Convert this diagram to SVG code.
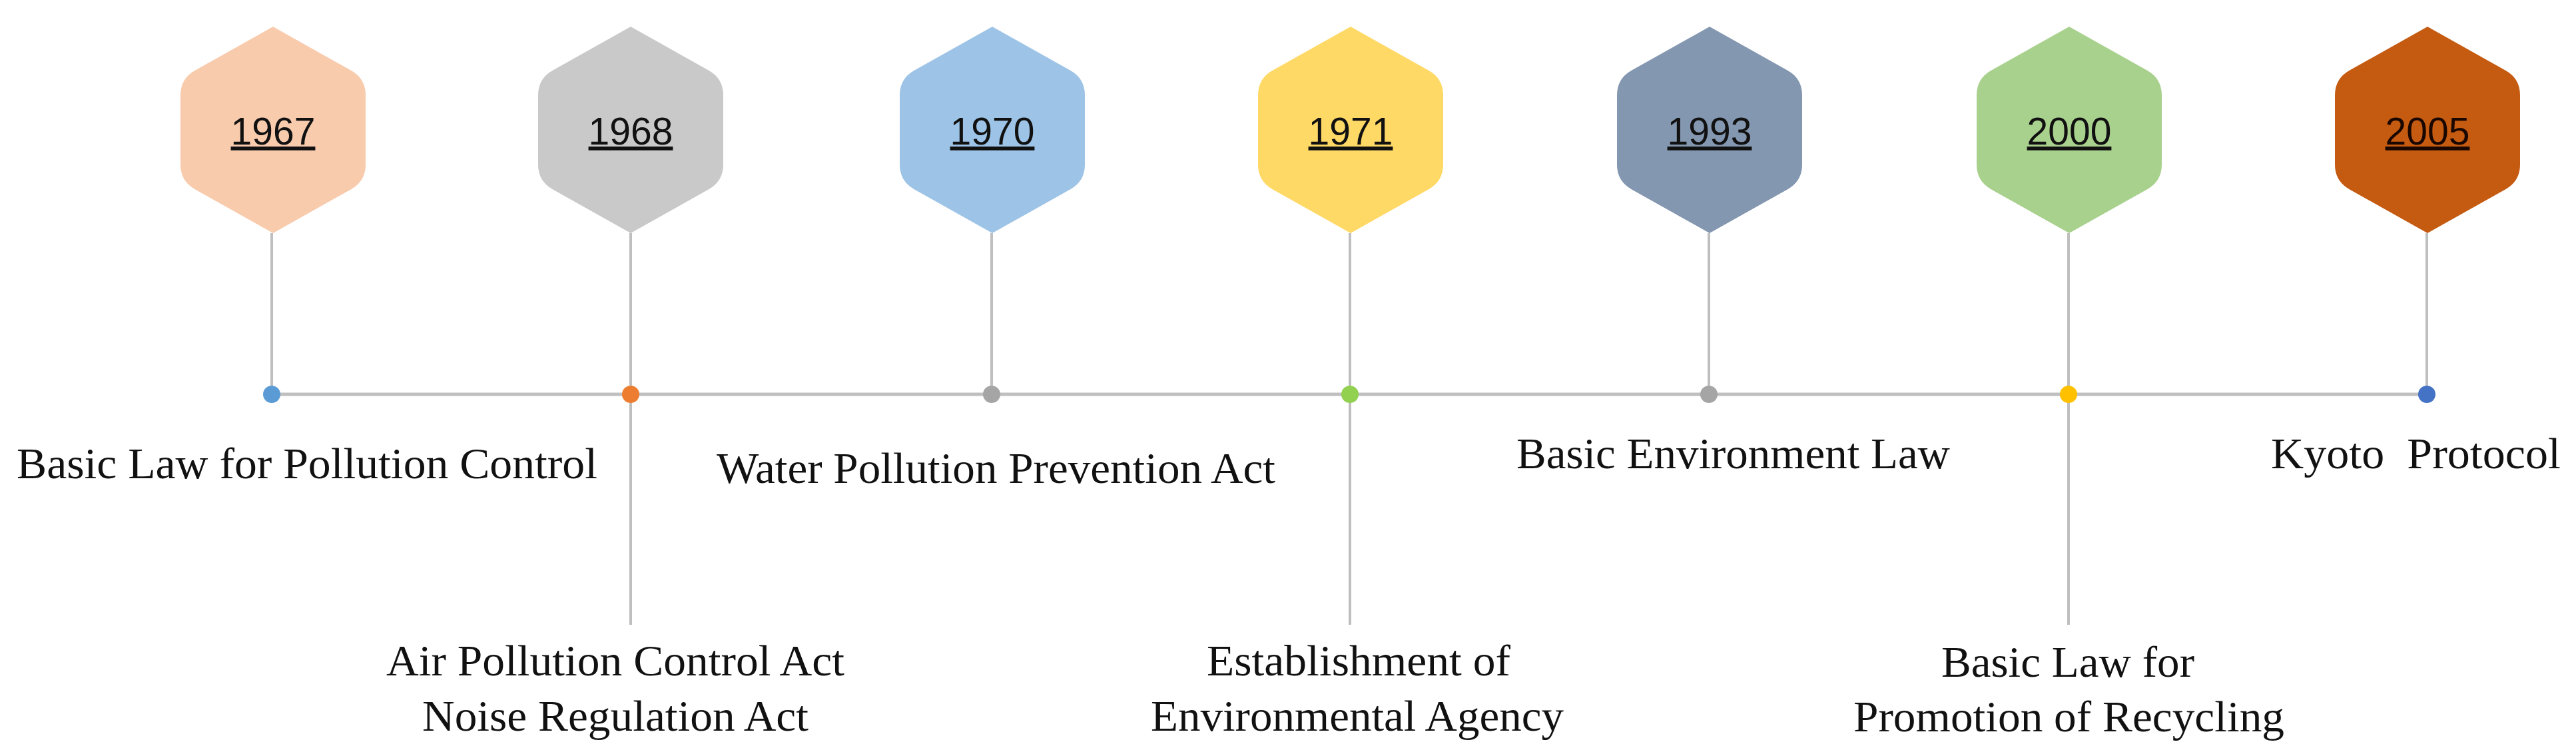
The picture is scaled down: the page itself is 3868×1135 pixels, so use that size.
<svg xmlns="http://www.w3.org/2000/svg" xmlns:xlink="http://www.w3.org/1999/xlink" width="3868" height="1135" viewBox="0 0 3868 1135">
<style>
.year{font-family:"Liberation Sans",Arial,sans-serif;font-size:57px;fill:#111;text-anchor:middle;text-decoration:underline;}
.desc{font-family:"Liberation Serif","Times New Roman",serif;font-size:66px;fill:#111;}
.conn{stroke:#BFBFBF;fill:none;}
</style>
<defs>
<path id="hex" d="M0,40 L117.2,105.8 Q139,118 139,143 L139,247 Q139,272 117.2,284.2 L0,350 L-117.2,284.2 Q-139,272 -139,247 L-139,143 Q-139,118 -117.2,105.8 Z"/>
</defs>
<rect width="3868" height="1135" fill="#FFFFFF"/>
<g id="connectors">
<line class="conn" x1="408" y1="592" x2="3644" y2="592" stroke-width="5"/>
<line class="conn" x1="408" y1="350" x2="408" y2="592" stroke-width="4"/>
<line class="conn" x1="947" y1="350" x2="947" y2="938" stroke-width="4"/>
<line class="conn" x1="1489" y1="350" x2="1489" y2="592" stroke-width="4"/>
<line class="conn" x1="2027" y1="350" x2="2027" y2="938" stroke-width="4"/>
<line class="conn" x1="2566" y1="350" x2="2566" y2="592" stroke-width="4"/>
<line class="conn" x1="3106" y1="350" x2="3106" y2="938" stroke-width="4"/>
<line class="conn" x1="3644" y1="350" x2="3644" y2="592" stroke-width="4"/>
<circle cx="408" cy="592" r="13" fill="#5B9BD5"/>
<circle cx="947" cy="592" r="13" fill="#ED7D31"/>
<circle cx="1489" cy="592" r="13" fill="#A5A5A5"/>
<circle cx="2027" cy="592" r="13" fill="#92D050"/>
<circle cx="2566" cy="592" r="13" fill="#A5A5A5"/>
<circle cx="3106" cy="592" r="13" fill="#FFC000"/>
<circle cx="3644" cy="592" r="13" fill="#4472C4"/>
</g>
<g id="node-1967">
<use xlink:href="#hex" transform="translate(410,0)" fill="#F8CBAD"/>
<text class="year" x="410" y="217">1967</text>
<text class="desc" x="25" y="718" textLength="872" lengthAdjust="spacingAndGlyphs">Basic Law for Pollution Control</text>
</g>
<g id="node-1968">
<use xlink:href="#hex" transform="translate(947,0)" fill="#C9C9C9"/>
<text class="year" x="947" y="217">1968</text>
<text class="desc" x="580" y="1014" textLength="688" lengthAdjust="spacingAndGlyphs">Air Pollution Control Act</text>
<text class="desc" x="634" y="1097" textLength="580" lengthAdjust="spacingAndGlyphs">Noise Regulation Act</text>
</g>
<g id="node-1970">
<use xlink:href="#hex" transform="translate(1490,0)" fill="#9DC3E6"/>
<text class="year" x="1490" y="217">1970</text>
<text class="desc" x="1076" y="725" textLength="839" lengthAdjust="spacingAndGlyphs">Water Pollution Prevention Act</text>
</g>
<g id="node-1971">
<use xlink:href="#hex" transform="translate(2028,0)" fill="#FFD966"/>
<text class="year" x="2028" y="217">1971</text>
<text class="desc" x="1812" y="1014" textLength="456" lengthAdjust="spacingAndGlyphs">Establishment of</text>
<text class="desc" x="1728" y="1097" textLength="620" lengthAdjust="spacingAndGlyphs">Environmental Agency</text>
</g>
<g id="node-1993">
<use xlink:href="#hex" transform="translate(2567,0)" fill="#8497B0"/>
<text class="year" x="2567" y="217">1993</text>
<text class="desc" x="2277" y="703" textLength="651" lengthAdjust="spacingAndGlyphs">Basic Environment Law</text>
</g>
<g id="node-2000">
<use xlink:href="#hex" transform="translate(3107,0)" fill="#A9D18E"/>
<text class="year" x="3107" y="217">2000</text>
<text class="desc" x="2915" y="1016" textLength="380" lengthAdjust="spacingAndGlyphs">Basic Law for</text>
<text class="desc" x="2783" y="1098" textLength="647" lengthAdjust="spacingAndGlyphs">Promotion of Recycling</text>
</g>
<g id="node-2005">
<use xlink:href="#hex" transform="translate(3645,0)" fill="#C55A11"/>
<text class="year" x="3645" y="217" style="fill:#1a0800">2005</text>
<text class="desc" x="3410" y="703" textLength="435" lengthAdjust="spacingAndGlyphs" xml:space="preserve">Kyoto  Protocol</text>
</g>
</svg>
